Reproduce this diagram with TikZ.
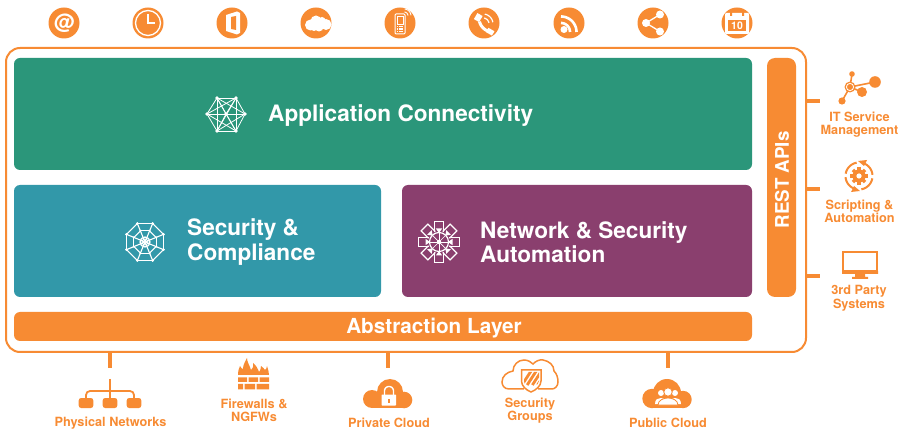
\documentclass[tikz,border=0pt]{standalone}
\usepackage{fontspec}
\setmainfont{TeX Gyre Heros}
\usetikzlibrary{calc}
\definecolor{org}{HTML}{F78B33}
\definecolor{grn}{HTML}{2B967A}
\definecolor{tea}{HTML}{3298A9}
\definecolor{pur}{HTML}{8A3F6E}
\newcommand\parc[5]{plot[domain=#4:#5,samples=24] ({#1+#3*cos(\x)},{#2-#3*sin(\x)})}
\tikzset{
  x=1pt,y=-1pt,
  frame/.style={draw=org,line width=2pt,rounded corners=14pt,fill=white,inner sep=0pt,minimum width=800pt,minimum height=304pt},
  block/.style={rounded corners=6pt,inner sep=0pt},
  stub/.style={draw=org,line width=3.5pt},
  badge/.style={circle,fill=org,minimum size=31pt,inner sep=0pt},
  wtxt/.style={text=white,font=\fontsize{22.6}{24.5}\selectfont\bfseries,align=left,inner sep=0pt},
  otxt/.style={text=org,font=\fontsize{12.7}{13.5}\selectfont\bfseries,align=center,inner sep=0pt},
  wl/.style={draw=white,line width=1.1pt},
  ol/.style={draw=org,line width=1.6pt},
}
\begin{document}
\begin{tikzpicture}
\useasboundingbox (0,0) rectangle (900,430);
% frame and blocks
\node[frame] (frame) at (406,200) {};
\node[block,fill=grn,minimum width=738pt,minimum height=112pt] (app) at (383,114) {};
\node[block,fill=tea,minimum width=367pt,minimum height=112pt] (sec) at (197.5,241) {};
\node[block,fill=pur,minimum width=350pt,minimum height=112pt] (net) at (577,241) {};
\node[block,fill=org,minimum width=738pt,minimum height=29pt] (abs) at (383,326.5) {};
\node[text=white,inner sep=0pt,font=\fontsize{20.7}{24}\selectfont\bfseries] (abst) at (434,328) {Abstraction Layer};
\node[block,fill=org,rounded corners=8pt,minimum width=29pt,minimum height=239pt] (rest) at (781.5,177.5) {};
\node[text=white,font=\fontsize{18.8}{22}\selectfont\bfseries,rotate=90,inner sep=0pt] (restt) at (782,180) {REST APIs};
% block labels
\node[wtxt,anchor=west] (appt) at (268,115.5) {Application Connectivity};
\node[wtxt,anchor=west] (sect) at (187,242) {Security \&\\Compliance};
\node[wtxt,anchor=west] (nett) at (480,242) {Network \& Security\\Automation};
% stubs
\coordinate (r1) at (820,101);
\coordinate (r2) at (820,189);
\coordinate (r3) at (820,276);
\coordinate (b1) at (110,368);
\coordinate (b2) at (388,368);
\coordinate (b3) at (668,368);
\foreach \c in {r1,r2,r3} \draw[stub] (frame.east |- \c) -- (\c);
\foreach \c in {b1,b2,b3} \draw[stub] (frame.south -| \c) -- (\c);
% badges
\foreach \n/\xx in {a/64,b/148,c/232,d/316,e/400,f/484,g/569,h/653,i/737}
  \node[badge] (\n) at (\xx,23) {};
% @
\node[text=white,font=\fontsize{21}{21}\selectfont\bfseries,inner sep=0pt] at (a) {@};
% clock
\draw[white,line width=1.3pt] (b) circle (12.5);
\draw[white,line width=1.1pt] (148,14) -- (148,23) -- (155,23);
% office
\fill[white] (226,15) -- (237,11.5) -- (240,13) -- (240,33) -- (237,34.5) -- (226,31) -- cycle;
\fill[org] (231,17) -- (236,16) -- (236,30) -- (231,29) -- cycle;
% cloud
\fill[white] (310.5,25) circle (5.5) (316,21) circle (5.5) (322,20.5) circle (3.5) (326,24.5) circle (5.5) (319,27) circle (4.5) (314,27) circle (4);
% mobile
\draw[white,line width=1pt,rounded corners=1pt] (395,14) rectangle (405,34);
\draw[white,line width=.8pt] (397,16.5) rectangle (403,24);
\foreach \yy in {26.5,29,31.5} \draw[white,line width=1.3pt,dash pattern=on 1.6pt off .7pt] (396.8,\yy) -- (403.4,\yy);
\foreach \r in {4,7} \draw[white,line width=.9pt] \parc{404}{16}{\r}{5}{85};
% phone
\draw[white,line width=3pt] \parc{493}{18}{14}{195}{262};
\fill[white,rotate around={-30:(478,18)}] (475,14) rectangle (481,21);
\fill[white,rotate around={-30:(490,31)}] (487,29) rectangle (494,34);
\foreach \r in {6,10} \draw[white,line width=1.2pt] \parc{483}{24}{\r}{10}{80};
% rss
\fill[white] (564,29.5) circle (3.5);
\draw[white,line width=2.6pt] \parc{561}{32}{9}{0}{90};
\draw[white,line width=2.6pt] \parc{561}{32}{15.5}{0}{90};
% share
\draw[white,line width=1.3pt] (660,14.5) -- (646,23) -- (660,31.5);
\fill[white] (660,14.5) circle (4) (646,23) circle (4) (660,31.5) circle (4);
% calendar
\fill[white,rounded corners=1pt] (725,13) rectangle (749,34);
\fill[org] (728,20) rectangle (746,31.5);
\fill[org] (730,12) rectangle (732,16) (742,12) rectangle (744,16);
\node[text=white,font=\fontsize{10.5}{11}\selectfont\bfseries,inner sep=0pt] at (737,26) {10};
% graph icon
\coordinate (hx1) at (217,98);
\coordinate (hx2) at (236,98);
\coordinate (hx3) at (207,114);
\coordinate (hx4) at (245,114);
\coordinate (hx5) at (217,131);
\coordinate (hx6) at (236,131);
\coordinate (hx7) at (226,114);
\foreach \u/\v in {1/2,1/3,1/4,1/5,1/6,1/7,2/3,2/4,2/5,2/6,2/7,3/4,3/5,3/6,3/7,4/5,4/6,4/7,5/6,5/7,6/7}
  \draw[white,line width=.8pt] (hx\u) -- (hx\v);
\foreach \u in {1,...,7} \fill[white] (hx\u) circle (1.9);
% web icon
\foreach \a in {22.5,67.5,...,337.5} {
  \draw[wl] ($(145,242)+(\a:20)$) -- ($(145,242)+(\a+45:20)$);
  \draw[wl] ($(145,242)+(\a:12)$) -- ($(145,242)+(\a+45:12)$);
  \draw[wl] (145,242) -- ($(145,242)+(\a:20)$);
  \fill[white] ($(145,242)+(\a:20)$) circle (1.5);
  \fill[white] ($(145,242)+(\a:12)$) circle (1.1);
}
\draw[white,line width=1.2pt] (145,242) circle (5);
\draw[white,line width=.9pt] (145,242) circle (3);
% automation icon
\foreach \a in {0,45,...,315} {
  \begin{scope}[shift={(439,242)},rotate=\a]
    \draw[white,line width=1.2pt] (10,-4.8) -- (20.5,-4.8) -- (20.5,4.8) -- (10,4.8);
    \fill[white] (13.5,-3.2) -- (13.5,3.2) -- (9,0) -- cycle;
    \draw[white,line width=.7pt] (0,0) -- (9,0);
  \end{scope}
}
\draw[white,line width=1.2pt] (439,242) circle (9.5);
\fill[white] (439,242) circle (2.2);
% IT service icon
\draw[ol] (842,101) -- (850,87) -- (852,74);
\draw[ol] (850,87) -- (875,82);
\draw[ol] (850,87) -- (862,92);
\fill[org] (852,74) circle (2.8) (875,82) circle (5.8) (862,92) circle (5) (842,101) circle (3.6);
\fill[org] (850,87) circle (5.5);
\draw[white,line width=.8pt] (850,87) circle (3.6);
\fill[org] (850,87) circle (1.6);
\node[otxt] (t1) at (859.5,124.5) {IT Service\\Management};
% scripting icon
\draw[org,line width=2pt] \parc{859}{176}{13.5}{100}{170};
\draw[org,line width=2pt] \parc{859}{176}{13.5}{185}{255};
\draw[org,line width=2pt] \parc{859}{176}{13.5}{280}{350};
\draw[org,line width=2pt] \parc{859}{176}{13.5}{5}{75};
\fill[org] (851,192) -- (860,191) -- (854,186) -- cycle;
\fill[org] (867,160) -- (858,161) -- (864,166) -- cycle;
\foreach \a in {0,45,...,315}
  \fill[org,shift={(859,176)},rotate=\a] (-1.7,-8.6) rectangle (1.7,0);
\fill[org] (859,176) circle (6.5);
\fill[white] (859,176) circle (2.6);
\node[otxt] (t2) at (859.5,211.5) {Scripting \&\\Automation};
% monitor icon
\draw[org,line width=2.4pt] (843,252) rectangle (877,271.5);
\fill[org] (842,271) rectangle (878,274) (855,274) rectangle (865,277) (852,277) rectangle (868,279);
\node[otxt] (t3) at (859,298.5) {3rd Party\\Systems};
% physical networks icon
\draw[org,line width=1.8pt] (110,379) -- (110,399);
\draw[org,line width=1.8pt,rounded corners=4pt] (86,399) -- (86,391) -- (134,391) -- (134,399);
\foreach \xx in {86,110,134}
  \fill[org,rounded corners=2.5pt] (\xx-7.3,398) rectangle (\xx+7.3,408);
\node[otxt] (t4) at (110.5,423.5) {Physical Networks};
% firewall icon
\fill[org] (238,375) .. controls (238,371) and (239,368) .. (240,366) .. controls (241,368) and (242,369) .. (243,369)
  .. controls (243,365) and (245,362) .. (247,358) .. controls (247,362) and (250,366) .. (251,370)
  .. controls (252,369) and (254,367) .. (253,363) .. controls (256,365) and (258,369) .. (259,372)
  .. controls (260,371) and (261,369) .. (261,366) .. controls (263,367) and (264,369) .. (265,370)
  .. controls (266,369) and (267,368) .. (267,366) .. controls (268,369) and (269,372) .. (269,375) -- cycle;
\fill[org] (238,377.5) rectangle (247,382) (248.5,377.5) rectangle (258,382) (259.5,377.5) rectangle (269,382);
\fill[org] (238,384) rectangle (243,389.5) (244.5,384) rectangle (255,389.5) (256.5,384) rectangle (269,389.5);
\node[otxt] (t5) at (254,410.5) {Firewalls \&\\NGFWs};
% private cloud icon
\fill[org] (372,399) circle (9) (404,400) circle (8.3) (390,392) circle (13);
\fill[org] (372,396) rectangle (404,408);
\fill[white,rounded corners=.7pt] (381.5,394.5) rectangle (396,405.5);
\draw[white,line width=1.4pt] (384.5,395) -- (384.5,391) \parc{389}{391}{4.5}{180}{0} -- (393.5,395);
\fill[org] (388,399) rectangle (389.5,402.5);
\node[otxt] (t6) at (389,423) {Private Cloud};
% security groups icon
\draw[org,line width=1.5pt] (524,389) -- (509,389) .. controls (504,389) and (502,385) .. (502,382)
  .. controls (502,376) and (507,372) .. (513,371) .. controls (513,365) and (518,360) .. (524,360)
  .. controls (528,360) and (531,362) .. (533,364) .. controls (536,361) and (539,359.5) .. (543,360)
  .. controls (549,361) and (554,365) .. (554,371) .. controls (557,374) and (558,378) .. (558,382)
  .. controls (558,386) and (555,389) .. (552,389) -- (538,389);
\draw[org,line width=1.5pt,fill=white] (521.5,370) -- (541,370) -- (541,381) .. controls (541,386) and (536,390) .. (531,392) .. controls (526,390) and (521.5,386) .. (521.5,381) -- cycle;
\begin{scope}
\clip (524,372) -- (539,372) -- (539,381) .. controls (538,385) and (534,388) .. (531,389.5) .. controls (528,388) and (524,385) .. (524,381) -- cycle;
\foreach \k in {0,5.2,10.4,15.6} \draw[org,line width=2.8pt] (522+\k,385) -- (533+\k,368);
\end{scope}
\node[otxt] (t7) at (530,410.5) {Security\\Groups};
% public cloud icon
\fill[org] (652,398.5) circle (9.7) (683,399.5) circle (8.7) (667,393) circle (14);
\fill[org] (652,396) rectangle (683,408);
\fill[white] (661,393) circle (3) (675,393) circle (3);
\fill[white] (655,404) .. controls (655,399) and (658,398) .. (661,398) .. controls (664,398) and (667,399) .. (667,404) -- cycle;
\fill[white] (669,404) .. controls (669,399) and (672,398) .. (675,398) .. controls (678,398) and (681,399) .. (681,404) -- cycle;
\draw[org,fill=white,line width=.8pt] (668,392) circle (4.2);
\draw[org,fill=white,line width=.8pt] (658,405) .. controls (658,400) and (664,398) .. (668,398) .. controls (672,398) and (678,400) .. (678,405) -- cycle;
\node[otxt] (t8) at (668,423) {Public Cloud};
\end{tikzpicture}
\end{document}
